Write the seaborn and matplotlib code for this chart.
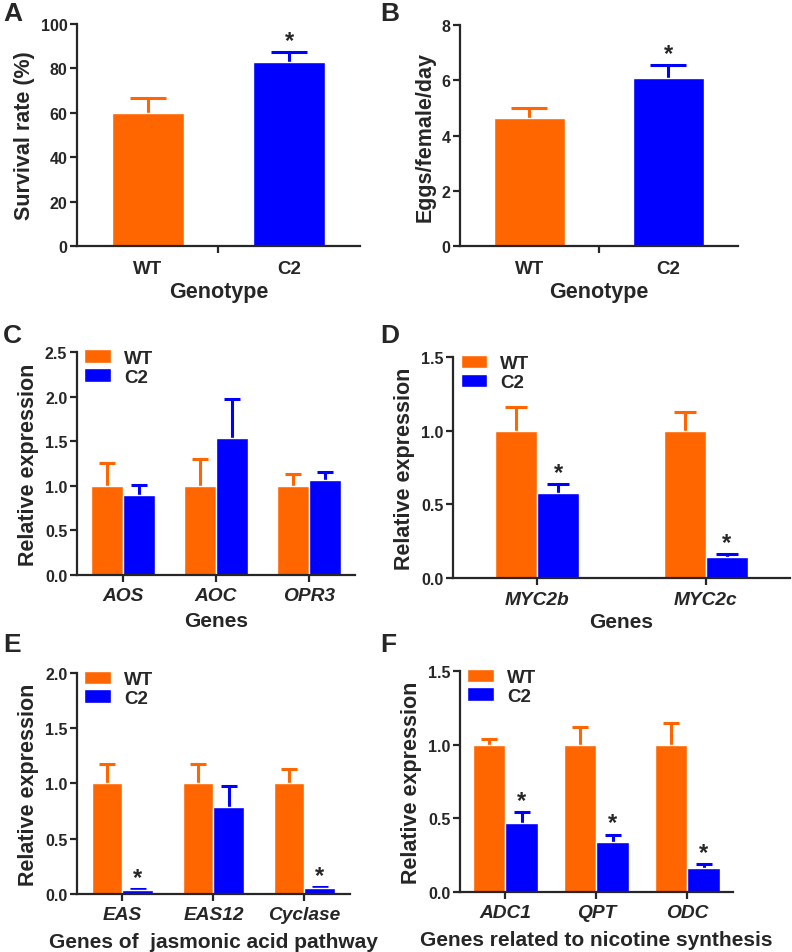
import numpy as np
import pandas as pd
import matplotlib
matplotlib.use('Agg')
import matplotlib.pyplot as plt
from matplotlib.ticker import FormatStrFormatter
import seaborn as sns

sns.set_style('ticks')
plt.rcParams['font.family'] = ['Liberation Sans', 'DejaVu Sans']
plt.rcParams['font.weight'] = 'bold'
plt.rcParams['axes.labelweight'] = 'bold'

# data
genotype = ['WT', 'C2']
survival = [60, 83]
survival_err = [6.8, 4.2]
eggs = [4.65, 6.08]
eggs_err = [0.35, 0.47]

genes_c = ['AOS', 'AOC', 'OPR3']
c_wt = [1.0, 1.0, 1.0]
c_wt_err = [0.25, 0.30, 0.13]
c_c2 = [0.90, 1.54, 1.06]
c_c2_err = [0.11, 0.43, 0.09]

genes_d = ['MYC2b', 'MYC2c']
d_wt = [1.0, 1.0]
d_wt_err = [0.16, 0.13]
d_c2 = [0.58, 0.14]
d_c2_err = [0.06, 0.025]

genes_e = ['EAS', 'EAS12', 'Cyclase']
e_wt = [1.0, 1.0, 1.0]
e_wt_err = [0.18, 0.18, 0.13]
e_c2 = [0.04, 0.79, 0.05]
e_c2_err = [0.005, 0.19, 0.015]

genes_f = ['ADC1', 'QPT', 'ODC']
f_wt = [1.0, 1.0, 1.0]
f_wt_err = [0.04, 0.12, 0.15]
f_c2 = [0.47, 0.34, 0.16]
f_c2_err = [0.07, 0.05, 0.03]

ORANGE = '#FF6600'
BLUE = '#0000FF'
palette = {'WT': ORANGE, 'C2': BLUE}
DPI = 100

fig = plt.figure(figsize=(7.92, 9.53), dpi=DPI)


def add_err(ax, bar, err, color, star=False):
    x = bar.get_x() + bar.get_width() / 2
    top = bar.get_height()
    x0 = ax.transData.transform((bar.get_x(), 0))[0]
    x1 = ax.transData.transform((bar.get_x() + bar.get_width(), 0))[0]
    cap = (x1 - x0) / 4 * 72 / DPI
    _, caps, _ = ax.errorbar(x, top, yerr=[[0], [err]], color=color, capsize=cap,
                             capthick=2.2, elinewidth=2.2, zorder=0.5)
    caps[0].set_visible(False)  # only the upper half is shown
    if star:
        ax.annotate('*', (x, top + err), xytext=(0, 0), textcoords='offset points',
                    ha='center', va='bottom', fontsize=17, fontweight='bold')


def style_axis(ax, ymax, ystep, fmt, ylabel, xlabel, xlsize=15, xlpad=3):
    ax.set_ylim(0, ymax)
    ax.set_yticks(np.arange(0, ymax + ystep / 2, ystep))
    ax.yaxis.set_major_formatter(FormatStrFormatter(fmt))
    ax.set_ylabel(ylabel, fontsize=15.5, fontweight='bold', labelpad=4)
    ax.set_xlabel(xlabel, fontsize=xlsize, fontweight='bold', labelpad=xlpad)
    for s in ['left', 'bottom']:
        ax.spines[s].set_linewidth(1.6)
    sns.despine(ax=ax)
    ax.tick_params(axis='y', length=5, width=1.6, labelsize=11.5, pad=2)
    for lab in ax.get_yticklabels():
        lab.set_fontweight('bold')


def single_panel(rect, values, errs, ymax, ystep, ylabel):
    ax = fig.add_axes(rect)
    df = pd.DataFrame({'genotype': genotype, 'value': values})
    sns.barplot(data=df, x='genotype', y='value', hue='genotype', palette=palette,
                width=0.51, saturation=1, errorbar=None, legend=False, ax=ax)
    ax.set_xlim(-0.5, 1.5)
    style_axis(ax, ymax, ystep, '%d', ylabel, 'Genotype', xlsize=15.5)
    for bar, err, g in zip(ax.patches, errs, genotype):
        add_err(ax, bar, err, palette[g], star=(g == 'C2'))
    ax.set_xticks([0, 1])
    ax.set_xticklabels(genotype, fontsize=13.5, fontweight='bold')
    ax.tick_params(axis='x', which='major', length=0, pad=10)
    ax.set_xticks([0.5], minor=True)
    ax.tick_params(axis='x', which='minor', length=5, width=1.6)
    return ax


def gene_panel(rect, genes, wt, wt_err, c2, c2_err, stars, ymax, ystep, xlabel,
               width, xlpad=5):
    ax = fig.add_axes(rect)
    n = len(genes)
    df = pd.DataFrame({'gene': genes * 2,
                       'group': ['WT'] * n + ['C2'] * n,
                       'value': wt + c2})
    sns.barplot(data=df, x='gene', y='value', hue='group', palette=palette,
                width=width, saturation=1, errorbar=None, ax=ax)
    ax.set_xlim(-0.5, n - 0.5)
    style_axis(ax, ymax, ystep, '%.1f', 'Relative expression', xlabel, 15, xlpad)
    for bar, err in zip(ax.containers[0], wt_err):
        add_err(ax, bar, err, ORANGE)
    for bar, err, st in zip(ax.containers[1], c2_err, stars):
        add_err(ax, bar, err, BLUE, star=st)
    ax.set_xticks(range(n))
    ax.set_xticklabels(genes, fontsize=13.8, fontweight='bold', style='italic')
    ax.tick_params(axis='x', length=5, width=1.6, pad=4)
    ax.legend(loc='upper left', bbox_to_anchor=(0.0, 1.045), frameon=False,
              prop={'weight': 'bold', 'size': 13.5},
              handlelength=1.4, handleheight=0.75, handletextpad=0.7,
              labelspacing=0.08, borderaxespad=0)
    return ax


single_panel([0.0972, 0.7408, 0.3573, 0.2330], survival, survival_err, 100, 20,
             'Survival rate (%)')
single_panel([0.5808, 0.7408, 0.3510, 0.2319], eggs, eggs_err, 8, 2,
             'Eggs/female/day')
gene_panel([0.0972, 0.3956, 0.3510, 0.2340], genes_c, c_wt, c_wt_err, c_c2, c_c2_err,
           [False, False, False], 2.5, 0.5, 'Genes', 0.69)
gene_panel([0.5720, 0.3924, 0.4255, 0.2319], genes_d, d_wt, d_wt_err, d_c2, d_c2_err,
           [True, True], 1.5, 0.5, 'Genes', 0.5, xlpad=3)
gene_panel([0.0972, 0.0609, 0.3447, 0.2319], genes_e, e_wt, e_wt_err, e_c2, e_c2_err,
           [True, False, True], 2.0, 0.5, 'Genes of  jasmonic acid pathway', 0.68,
           xlpad=6)
gene_panel([0.5808, 0.0630, 0.3447, 0.2319], genes_f, f_wt, f_wt_err, f_c2, f_c2_err,
           [True, True, True], 1.5, 0.5, 'Genes related to nicotine synthesis', 0.71,
           xlpad=6)

for lab, x, y in [('A', 3, 2), ('B', 380, 2), ('C', 3, 324), ('D', 380, 324),
                  ('E', 3, 633), ('F', 380, 633)]:
    fig.text(x / 792, 1 - y / 953, lab, fontsize=19, fontweight='bold',
             ha='left', va='top')

fig.savefig('out.png', dpi=DPI)
